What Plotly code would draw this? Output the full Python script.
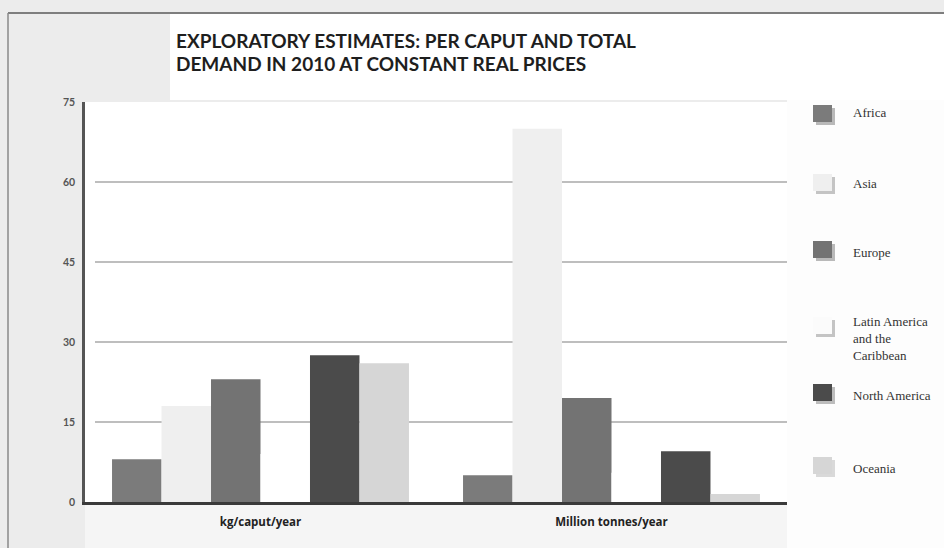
import plotly.graph_objects as go

# Demand categories (x axis)
categories = ["kg/caput/year", "Million tonnes/year"]

# Regional series: per caput demand and total demand
regions = ["Africa", "Asia", "Europe", "Latin America and the Caribbean",
           "North America", "Oceania"]
africa = [8, 5]
asia = [18, 70]
europe = [23, 19.5]
latin_america = [9, 5.5]
north_america = [27.5, 9.5]
oceania = [26, 1.5]
series_values = [africa, asia, europe, latin_america, north_america, oceania]

# Legend labels as printed (line-broken)
legend_labels = ["Africa", "Asia", "Europe",
                 "Latin America<br>and the<br>Caribbean",
                 "North America", "Oceania"]

title_lines = ["EXPLORATORY ESTIMATES: PER CAPUT AND TOTAL",
               "DEMAND IN 2010 AT CONSTANT REAL PRICES"]

y_ticks = [0, 15, 30, 45, 60, 75]
grid_values = [15, 30, 45, 60]

fills = ["#7b7b7b", "#efefef", "#737373", "#ffffff", "#4b4b4b", "#d6d6d6"]
shadows = ["#b9b9b9", "#c4c4c4", "#b9b9b9", "#c4c4c4", "#bdbdbd", "#d9d9d9"]

W, H = 944, 548
L, R, T, B = 85, 787, 102, 502  # plot area in pixels


def px(x):
    return (x - L) / (R - L)


def py(y):
    return (B - y) / (B - T)


fig = go.Figure()
for name, vals, fc in zip(regions, series_values, fills):
    fig.add_trace(go.Bar(
        x=categories, y=vals, name=name,
        marker=dict(color=fc, line=dict(width=0)),
        showlegend=False,
    ))

shapes = []
# page background panels
shapes.append(dict(type="rect", xref="paper", yref="paper", layer="below",
                   x0=px(170), x1=px(W), y0=py(14), y1=py(100),
                   fillcolor="#ffffff", line=dict(width=0)))
shapes.append(dict(type="rect", xref="paper", yref="paper", layer="below",
                   x0=px(R), x1=px(W), y0=py(100), y1=py(H),
                   fillcolor="#fdfdfd", line=dict(width=0)))
shapes.append(dict(type="rect", xref="paper", yref="paper", layer="below",
                   x0=px(L), x1=px(R), y0=py(B), y1=py(H),
                   fillcolor="#f5f5f5", line=dict(width=0)))
# outer frame
shapes.append(dict(type="line", xref="paper", yref="paper",
                   x0=px(8), x1=px(W), y0=py(13), y1=py(13),
                   line=dict(color="#5a5a5a", width=1.5)))
shapes.append(dict(type="line", xref="paper", yref="paper",
                   x0=px(8), x1=px(8), y0=py(13), y1=py(H),
                   line=dict(color="#8a8a8a", width=1.5)))
# horizontal gridlines
for g in grid_values:
    shapes.append(dict(type="line", xref="paper", yref="y", layer="below",
                       x0=px(95), x1=1, y0=g, y1=g,
                       line=dict(color="#a8a8a8", width=1.3)))

annotations = []
# legend: drop-shadowed swatches with labels
legend_centers = [114, 183, 250, 326, 393, 466]
text_centers = [113, 183, 253, 338, 395, 468]
for lab, yc, yt, fc, sc in zip(legend_labels, legend_centers, text_centers,
                               fills, shadows):
    x0, x1 = 813, 832
    y0, y1 = yc - 9, yc + 8
    shapes.append(dict(type="rect", xref="paper", yref="paper",
                       x0=px(x0 + 3), x1=px(x1 + 3), y0=py(y0 + 3), y1=py(y1 + 3),
                       fillcolor=sc, line=dict(width=0)))
    shapes.append(dict(type="rect", xref="paper", yref="paper",
                       x0=px(x0), x1=px(x1), y0=py(y0), y1=py(y1),
                       fillcolor=fc if fc != "#ffffff" else "#fbfbfb",
                       line=dict(width=0)))
    annotations.append(dict(xref="paper", yref="paper", x=px(851), y=py(yt),
                            text=lab, showarrow=False, xanchor="left",
                            yanchor="middle", align="left",
                            font=dict(family="Liberation Serif", size=13,
                                      color="#333333")))

# title, two lines
for line, yc in zip(title_lines, [41, 63]):
    annotations.append(dict(xref="paper", yref="paper", x=px(174), y=py(yc),
                            text="<b>" + line + "</b>",
                            showarrow=False, xanchor="left", yanchor="middle",
                            font=dict(family="Lato", size=19, color="#1e1e1e")))

fig.update_layout(
    width=W, height=H,
    margin=dict(l=L, r=W - R, t=T, b=H - B, pad=0),
    paper_bgcolor="#ececec",
    plot_bgcolor="#ffffff",
    barmode="group", bargap=0.154, bargroupgap=0,
    shapes=shapes, annotations=annotations,
    showlegend=False,
    xaxis=dict(showline=True, linecolor="#3a3a3a", linewidth=3,
               showgrid=False, ticks="", zeroline=False,
               tickvals=categories,
               ticktext=["<b>" + c + "</b>" for c in categories],
               tickfont=dict(family="Open Sans", size=11.5, color="#222222"),
               ticklabelstandoff=7),
    yaxis=dict(range=[0, 75], tickvals=y_ticks,
               ticktext=["<b>%d</b>" % v for v in y_ticks], showgrid=False,
               showline=True, linecolor="#555555", linewidth=2.5,
               zeroline=False, ticks="",
               tickfont=dict(family="Lato", size=10.5, color="#555555"),
               ticklabelstandoff=5),
    font=dict(family="Lato"),
)

fig.write_html("out.html")
